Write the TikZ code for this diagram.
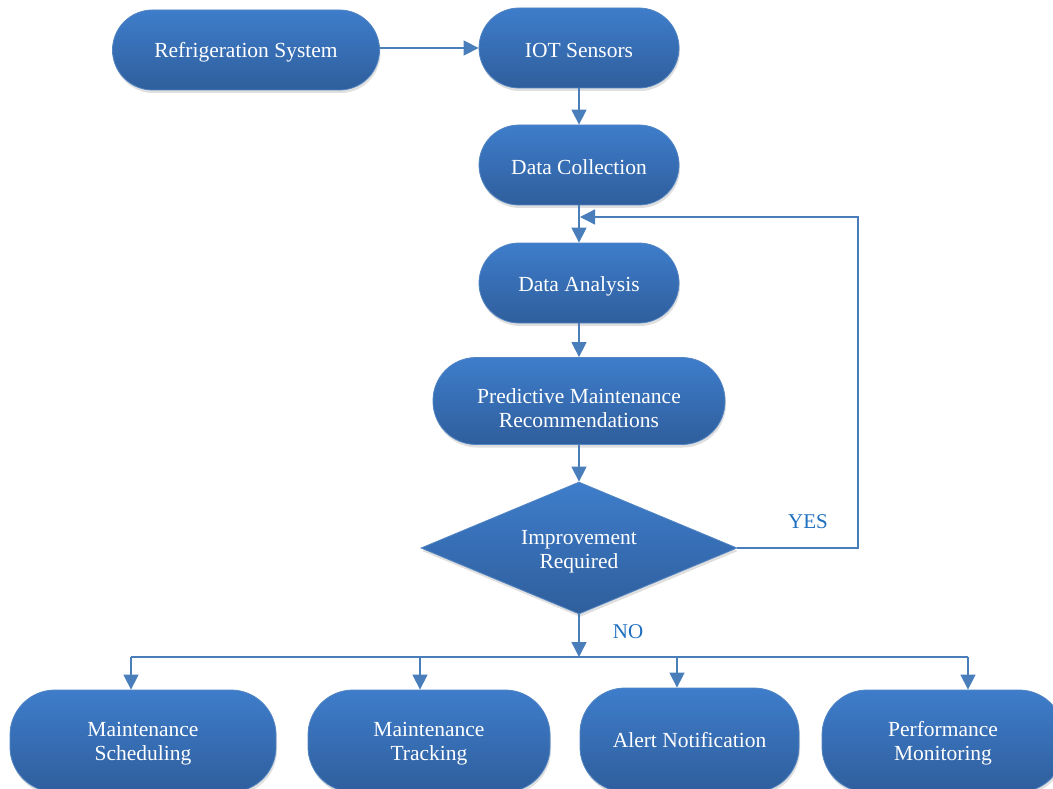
\documentclass[tikz,border=0pt]{standalone}
\usepackage{fontspec}
\setmainfont{Liberation Serif}
\usetikzlibrary{shapes.geometric,shadows,arrows.meta}
\definecolor{topc}{HTML}{3E7DCB}
\definecolor{botc}{HTML}{2F5E9C}
\definecolor{edgec}{HTML}{5285C2}
\definecolor{linec}{HTML}{4A7EBB}
\definecolor{labc}{HTML}{1F6FBF}
\begin{document}
\begin{tikzpicture}[x=1pt,y=-1pt,
  txt/.style={text=white, font=\fontsize{21.5}{24}\selectfont, align=center, inner sep=0pt},
  base/.style={top color=topc, bottom color=botc, draw=edgec, line width=0.8pt,
    inner sep=0pt,
    drop shadow={shadow xshift=1pt, shadow yshift=-3pt, opacity=0.25}},
  pill/.style={base, rectangle, rounded corners=40pt},
  dec/.style={base, diamond, aspect=2.4},
  conn/.style={draw=linec, line width=1.4pt, -{Triangle[length=15pt,width=15pt]}},
  wire/.style={draw=linec, line width=1.4pt},
  lab/.style={text=labc, font=\fontsize{21}{24}\selectfont, inner sep=0pt}]
\useasboundingbox (0,0) rectangle (1053,789);
\clip (0,0) rectangle (1053,789);

\node[pill, minimum width=267pt, minimum height=80pt,
  label={[txt, yshift=-2pt]center:Refrigeration System}] (rs) at (246,50) {};
\node[pill, minimum width=200pt, minimum height=80pt,
  label={[txt, yshift=-2pt]center:IOT Sensors}] (iot) at (579,48) {};
\node[pill, minimum width=200pt, minimum height=80pt,
  label={[txt, yshift=-2pt]center:Data Collection}] (dc) at (579,165) {};
\node[pill, minimum width=200pt, minimum height=80pt,
  label={[txt, yshift=-3pt]center:Data Analysis}] (da) at (579,283) {};
\node[pill, minimum width=292pt, minimum height=87pt, rounded corners=43pt,
  label={[txt, yshift=-7pt]center:Predictive Maintenance\\Recommendations}] (pm) at (579,401) {};
\node[dec, minimum width=316pt, minimum height=132pt,
  label={[txt, yshift=-4pt]center:Improvement\\Required}] (ir) at (579,548) {};

\node[pill, minimum width=266pt, minimum height=102pt, rounded corners=45pt,
  label={[txt, yshift=-3pt]center:Maintenance\\Scheduling}] (b1) at (143,741) {};
\node[pill, minimum width=242pt, minimum height=102pt, rounded corners=45pt,
  label={[txt, yshift=-3pt]center:Maintenance\\Tracking}] (b2) at (429,741) {};
\node[pill, minimum width=219pt, minimum height=104pt, rounded corners=45pt,
  label={[txt, yshift=0pt]center:Alert Notification}] (b3) at (689.5,740) {};
\node[pill, minimum width=242pt, minimum height=102pt, rounded corners=45pt,
  label={[txt, yshift=-2pt]center:Performance\\Monitoring}] (b4) at (943,741) {};

\draw[conn] (iot.west -| rs.east) -- (iot.west);
\draw[conn] (iot) -- (dc);
\draw[conn] (dc) -- (da);
\draw[conn] (da) -- (pm);
\draw[conn] (pm) -- (ir);

\coordinate (fbc) at (858,217);
\coordinate (fb) at (580,217);
\draw[conn] (ir.east) -| (fbc) -- (fb);
\node[lab] (yes) at (808,522) {YES};

\coordinate (bus) at (579,657);
\draw[conn] (ir.south) -- (bus);
\node[lab] (no) at (628,632) {NO};

\coordinate (j1) at (131,657);
\coordinate (j2) at (420,657);
\coordinate (j3) at (677,657);
\coordinate (j4) at (968,657);
\draw[wire] (j1) -- (j4);
\draw[conn] (j1) -- (j1 |- b1.north);
\draw[conn] (j2) -- (j2 |- b2.north);
\draw[conn] (j3) -- (j3 |- b3.north);
\draw[conn] (j4) -- (j4 |- b4.north);
\end{tikzpicture}
\end{document}
